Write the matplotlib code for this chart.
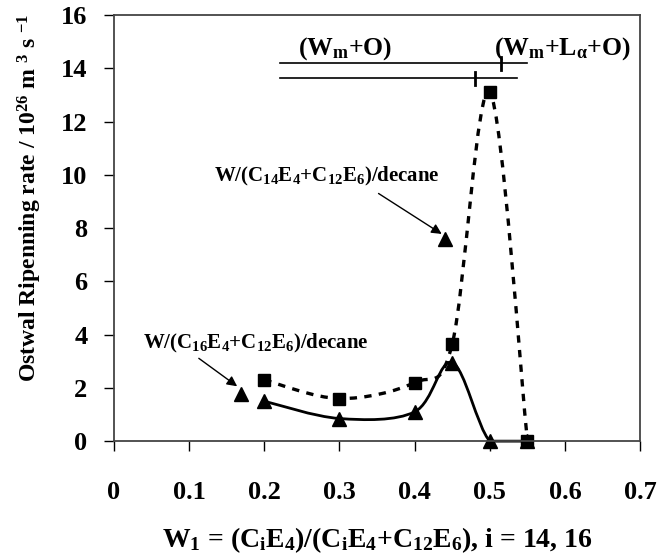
import matplotlib
matplotlib.use("Agg")
import matplotlib.pyplot as plt
from matplotlib.path import Path
from matplotlib.patches import PathPatch

plt.rcParams["font.family"] = "Liberation Serif"
plt.rcParams["font.weight"] = "bold"
plt.rcParams["axes.labelweight"] = "bold"
plt.rcParams["mathtext.fontset"] = "custom"
plt.rcParams["mathtext.rm"] = "Liberation Serif:bold"
plt.rcParams["mathtext.it"] = "Liberation Serif:bold"
plt.rcParams["mathtext.bf"] = "Liberation Serif:bold"

# data
w1 = [0.2, 0.3, 0.4, 0.45, 0.5, 0.55]
rate_c14 = [2.3, 1.6, 2.2, 3.65, 13.1, 0.0]   # squares, dotted
rate_c16 = [1.5, 0.85, 1.1, 2.95, 0.0, 0.0]   # triangles, solid

# legend-like marker symbols next to the labels
key_c14 = (0.441, 7.6)
key_c16 = (0.169, 1.78)

# phase boundary bars at the top
phase_x0 = 0.221
phase_c14 = (14.19, 0.549, 0.515)   # y, end, boundary tick
phase_c16 = (13.62, 0.536, 0.48)


def smooth_path(xs, ys):
    # excel-style smoothed line: cubic bezier control points (catmull-rom, 1/6)
    # control points kept at y >= 0 so the curve does not dip under the axis
    pts = list(zip(xs, ys))
    n = len(pts)
    verts = [pts[0]]
    codes = [Path.MOVETO]
    for i in range(n - 1):
        p0 = pts[i - 1] if i > 0 else pts[i]
        p1 = pts[i]
        p2 = pts[i + 1]
        p3 = pts[i + 2] if i + 2 < n else pts[i + 1]
        c1 = (p1[0] + (p2[0] - p0[0]) / 6, max(0, p1[1] + (p2[1] - p0[1]) / 6))
        c2 = (p2[0] - (p3[0] - p1[0]) / 6, max(0, p2[1] - (p3[1] - p1[1]) / 6))
        verts += [c1, c2, p2]
        codes += [Path.CURVE4] * 3
    return Path(verts, codes)


fig = plt.figure(figsize=(6.58, 5.57), dpi=100)
ax = fig.add_axes([0.173, 0.208, 0.8, 0.765])

ax.add_patch(PathPatch(smooth_path(w1, rate_c14), fill=False, color="black",
                       lw=2.4, linestyle=(0, (2.2, 2.2)), clip_on=False))
ax.add_patch(PathPatch(smooth_path(w1, rate_c16), fill=False, color="black", lw=2,
                       clip_on=False))
ax.plot(w1, rate_c14, "s", color="black", ms=8.5, ls="none", clip_on=False)
ax.plot(w1, rate_c16, "^", color="black", ms=9.5, ls="none", clip_on=False)
ax.plot(*key_c14, "^", color="black", ms=10.5)
ax.plot(*key_c16, "^", color="black", ms=10.5)

# phase bars
for y, x1, xt in [phase_c14, phase_c16]:
    ax.plot([phase_x0, x1], [y, y], color="black", lw=1.2)
    ax.plot([xt, xt], [y - 0.25, y + 0.25], color="black", lw=2)
ax.text(0.307, 14.75, r"(W$_\mathrm{m}$+O)", ha="center", va="center", fontsize=18.5)
ax.text(0.597, 14.75, r"(W$_\mathrm{m}$+L$_\alpha$+O)", ha="center", va="center", fontsize=18.5)

ax.text(0.283, 9.95, r"W/(C$_{14}$E$_4$+C$_{12}$E$_6$)/decane", ha="center", va="center",
        fontsize=15)
ax.text(0.189, 3.68, r"W/(C$_{16}$E$_4$+C$_{12}$E$_6$)/decane", ha="center", va="center",
        fontsize=15)
arrow = dict(arrowstyle="-|>", color="black", lw=1, shrinkA=0, shrinkB=0, mutation_scale=15)
ax.annotate("", xy=(0.436, 7.78), xytext=(0.352, 9.3), arrowprops=arrow)
ax.annotate("", xy=(0.164, 2.06), xytext=(0.113, 3.11), arrowprops=arrow)

ax.set_xlim(0, 0.7)
ax.set_ylim(0, 16)
ax.set_xticks([0, 0.1, 0.2, 0.3, 0.4, 0.5, 0.6, 0.7])
ax.set_xticklabels(["0", "0.1", "0.2", "0.3", "0.4", "0.5", "0.6", "0.7"])
ax.set_yticks(range(0, 17, 2))
ax.tick_params(axis="x", direction="out", length=7, width=1, pad=22, labelsize=19)
ax.tick_params(axis="y", direction="out", length=7, width=1, pad=12, labelsize=19)
for s in ax.spines.values():
    s.set_color("#444444")
    s.set_linewidth(1.3)

ax.set_xlabel(r"W$_1$ = (C$_\mathrm{i}$E$_4$)/(C$_\mathrm{i}$E$_4$+C$_{12}$E$_6$), i = 14, 16",
              fontsize=20, labelpad=15)
ax.set_ylabel(r"Ostwal Ripenning rate / 10$^{26}$ m $^{3}$ s $^{-1}$", fontsize=17)
ax.yaxis.set_label_coords(-0.133, 0.571)

fig.savefig("out.png", dpi=100)
